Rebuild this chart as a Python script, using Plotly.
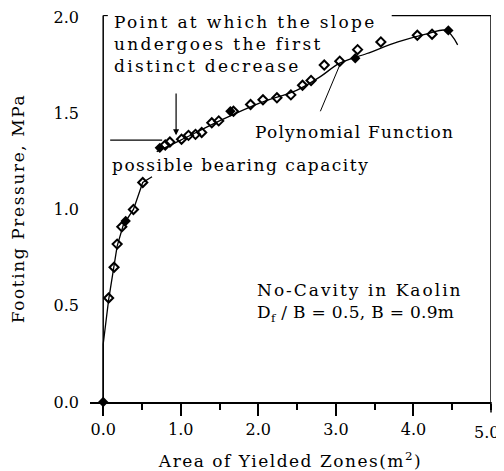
import plotly.graph_objects as go

# measured points (open and filled symbols)
area_open = [0.07, 0.14, 0.18, 0.24, 0.39, 0.51, 0.80, 0.86, 1.01, 1.10, 1.19, 1.27,
             1.40, 1.49, 1.68, 1.90, 2.06, 2.24, 2.42, 2.57, 2.68, 2.85, 3.05, 3.28,
             3.58, 4.05, 4.24]
press_open = [0.54, 0.70, 0.82, 0.91, 1.00, 1.14, 1.335, 1.35, 1.365, 1.385, 1.39, 1.40,
              1.45, 1.46, 1.51, 1.545, 1.57, 1.58, 1.595, 1.645, 1.67, 1.75, 1.77, 1.83,
              1.87, 1.905, 1.91]
area_filled = [0.0, 0.29, 0.73, 1.64, 3.25, 4.45]
press_filled = [0.0, 0.94, 1.32, 1.51, 1.785, 1.93]

# initial linear part of the curve
area_lin = [0.0, 0.0, 0.07, 0.14, 0.18, 0.26, 0.39, 0.51, 0.63]
press_lin = [0.0, 0.30, 0.53, 0.70, 0.81, 0.92, 1.00, 1.14, 1.17]

# polynomial function fit
area_poly = [0.69, 1.0, 1.5, 2.0, 2.5, 2.8, 3.05, 3.4, 3.8, 4.2, 4.42, 4.57]
press_poly = [1.30, 1.36, 1.46, 1.55, 1.62, 1.69, 1.76, 1.81, 1.87, 1.915, 1.93, 1.855]

x_ticks = [0, 1, 2, 3, 4, 5]
x_tick_labels = ["0.0", "1.0", "2.0", "3.0", "4.0", "5.0"]
y_ticks = [0, 0.5, 1.0, 1.5, 2.0]

FONT = "DejaVu Serif"


def spaced(s, px=2):
    # the old typeset labels have wide letter spacing
    return '<span style="letter-spacing:%spx">%s</span>' % (px, s)


fig = go.Figure()
fig.add_trace(go.Scatter(x=area_lin, y=press_lin, mode="lines",
                         line=dict(color="black", width=1.3), showlegend=False))
fig.add_trace(go.Scatter(x=area_poly, y=press_poly, mode="lines",
                         line=dict(color="black", width=1.3, shape="spline"),
                         showlegend=False))
fig.add_trace(go.Scatter(x=area_open, y=press_open, mode="markers",
                         marker=dict(symbol="diamond-open", size=7, color="black",
                                     line=dict(width=2, color="black")),
                         cliponaxis=False, showlegend=False))
fig.add_trace(go.Scatter(x=area_filled, y=press_filled, mode="markers",
                         marker=dict(symbol="diamond", size=8, color="black"),
                         cliponaxis=False, showlegend=False))

# frame pieces
fig.add_shape(type="line", x0=0, x1=0, y0=0, y1=2.008, line=dict(color="black", width=1.5))
fig.add_shape(type="line", x0=5, x1=5, y0=0, y1=2.008, line=dict(color="black", width=1.5))
fig.add_shape(type="line", x0=0, x1=0.06, y0=2.008, y1=2.008, line=dict(color="black", width=1.5))
fig.add_shape(type="line", x0=3.72, x1=5, y0=2.008, y1=2.008, line=dict(color="black", width=1.5))
# possible bearing capacity marker line
fig.add_shape(type="line", x0=0.09, x1=0.76, y0=1.36, y1=1.36, line=dict(color="black", width=1.2))
# pointer to polynomial
fig.add_shape(type="line", x0=2.80, x1=3.05, y0=1.51, y1=1.75, line=dict(color="black", width=1))

# arrow at slope change
fig.add_annotation(x=0.94, y=1.385, ax=0.94, ay=1.61, axref="x", ayref="y",
                   xref="x", yref="y", text="", showarrow=True,
                   arrowhead=2, arrowsize=1, arrowwidth=1.2, arrowcolor="black")

txt = dict(family=FONT, size=17, color="black")
fig.add_annotation(x=0.12, y=2.01, xref="x", yref="y", xanchor="left", yanchor="top",
                   text="<br>".join(spaced(s, 2.3) for s in
                                    ["Point at which the slope", "undergoes the first",
                                     "distinct decrease"]),
                   showarrow=False, align="left", font=txt, yshift=5)
fig.add_annotation(x=0.09, y=1.23, xref="x", yref="y", xanchor="left", yanchor="middle",
                   text=spaced("possible bearing capacity", 1.5), showarrow=False, font=txt)
fig.add_annotation(x=1.93, y=1.40, xref="x", yref="y", xanchor="left", yanchor="middle",
                   text=spaced("Polynomial Function", 1.2), showarrow=False, font=txt)
fig.add_annotation(x=1.96, y=0.517, xref="x", yref="y", xanchor="left", yanchor="middle",
                   text=spaced("No-Cavity in Kaolin", 2.0) + "<br>"
                   + spaced("D<sub>f</sub> / B = 0.5, B = 0.9m", 0.3),
                   showarrow=False, align="left", font=txt)

# last x label sits a little left of its tick so it stays inside the page
fig.add_annotation(x=x_ticks[-1], y=0, xref="x", yref="y", text=x_tick_labels[-1],
                   showarrow=False, xshift=-5, yshift=-30,
                   font=dict(family=FONT, size=16, color="black"))
# major tick at 5.0 (its label is the annotation above)
fig.add_annotation(x=5, y=0, xref="x", yref="y", ax=0, ay=12, text="", showarrow=True,
                   arrowhead=0, arrowwidth=1.5, arrowcolor="black", standoff=0)

fig.update_xaxes(range=[-0.17, 5.0], tickvals=x_ticks[:-1], ticktext=x_tick_labels[:-1],
                 showline=True, linecolor="black", linewidth=1.5, automargin=False,
                 ticks="outside", ticklen=12, tickwidth=1.5, tickcolor="black",
                 minor=dict(dtick=0.5, ticks="outside", ticklen=6, tickcolor="black"),
                 showgrid=False, zeroline=False, ticklabelstandoff=0,
                 ticklabeloverflow="allow",
                 tickfont=dict(family=FONT, size=16, color="black"),
                 title=dict(text=spaced("Area of Yielded Zones(m<sup>2</sup>)", 1.5), standoff=20,
                            font=dict(family=FONT, size=17, color="black")))
fig.update_yaxes(range=[0, 2.01], tickvals=y_ticks, tickformat=".1f",
                 showline=False, showgrid=False, zeroline=False, ticks="",
                 ticklabelstandoff=10, automargin=False, ticklabeloverflow="allow",
                 tickfont=dict(family=FONT, size=16, color="black"),
                 title=dict(text=spaced("Footing Pressure, MPa", 1.6), standoff=26,
                            font=dict(family=FONT, size=17, color="black")))
# page body adds an 8px offset, so the figure is drawn 8px smaller
fig.update_layout(width=496, height=463, margin=dict(l=82, r=13, t=7, b=69),
                  plot_bgcolor="white", paper_bgcolor="white")
fig.write_html("out.html")
